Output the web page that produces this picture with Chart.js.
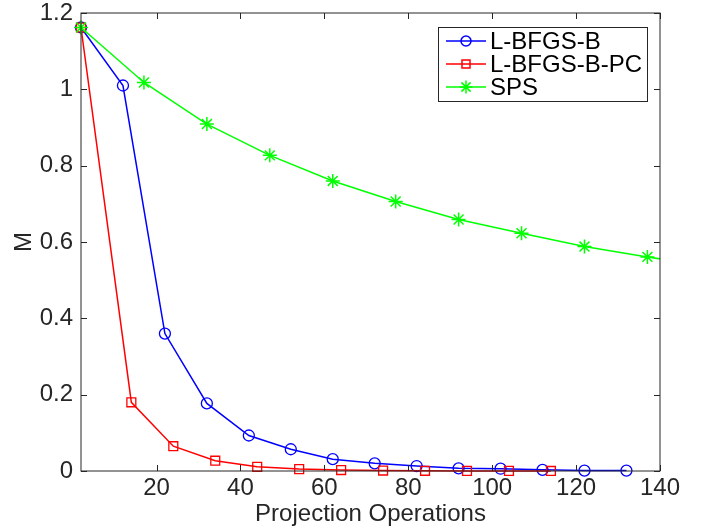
<!DOCTYPE html>
<html>
<head>
<meta charset="utf-8">
<script src="https://cdn.jsdelivr.net/npm/chart.js@4/dist/chart.umd.min.js"></script>
<style>
  html, body { margin: 0; padding: 0; background: #fff; }
  #wrap { width: 709px; height: 529px; }
</style>
</head>
<body>
<div id="wrap"><canvas id="myChart" width="709" height="529"></canvas></div>
<script>
// tick labels
var xTicks = [20, 40, 60, 80, 100, 120, 140];
var yTicks = [0, 0.2, 0.4, 0.6, 0.8, 1, 1.2];

// L-BFGS-B
var bfgsX = [2, 12, 22, 32, 42, 52, 62, 72, 82, 92, 102, 112, 122, 132];
var bfgsY = [1.162, 1.01, 0.36, 0.177, 0.093, 0.057, 0.031, 0.02, 0.013, 0.007, 0.006, 0.003, 0.001, 0.001];

// L-BFGS-B-PC
var pcX = [2, 14, 24, 34, 44, 54, 64, 74, 84, 94, 104, 114];
var pcY = [1.162, 0.18, 0.065, 0.027, 0.011, 0.005, 0.0025, 0.0012, 0.0006, 0.0003, 0.0002, 0.0001];

// SPS
var spsX = [2, 17, 32, 47, 62, 77, 92, 107, 122, 137, 152];
var spsY = [1.162, 1.018, 0.909, 0.827, 0.760, 0.706, 0.659, 0.623, 0.588, 0.561, 0.535];

var FONT = "'Liberation Sans', Arial, Helvetica, sans-serif";
var TXT = '#262626';

function pts(xs, ys) {
  return xs.map(function (v, i) { return {x: v, y: ys[i]}; });
}

// draws the matlab style box, inward ticks and the boxed legend
var matlabBox = {
  id: 'matlabBox',
  afterDraw: function (chart) {
    var ctx = chart.ctx, a = chart.chartArea;
    var xs = chart.scales.x, ys = chart.scales.y;
    ctx.save();
    ctx.strokeStyle = TXT;
    ctx.lineWidth = 1;
    ctx.strokeRect(a.left, a.top, a.right - a.left, a.bottom - a.top);
    ctx.beginPath();
    xTicks.forEach(function (v) {
      var px = Math.round(xs.getPixelForValue(v)) + 0.5;
      ctx.moveTo(px, a.bottom); ctx.lineTo(px, a.bottom - 6);
      ctx.moveTo(px, a.top); ctx.lineTo(px, a.top + 6);
    });
    yTicks.forEach(function (v) {
      var py = Math.round(ys.getPixelForValue(v)) + 0.5;
      ctx.moveTo(a.left, py); ctx.lineTo(a.left + 6, py);
      ctx.moveTo(a.right, py); ctx.lineTo(a.right - 6, py);
    });
    ctx.stroke();

    // legend
    var lx = a.right - 222, ly = a.top + 14, lw = 209, lh = 74;
    ctx.fillStyle = '#fff';
    ctx.fillRect(lx, ly, lw, lh);
    ctx.strokeStyle = TXT;
    ctx.strokeRect(lx + 0.5, ly + 0.5, lw, lh);
    ctx.font = '24px ' + FONT;
    ctx.textBaseline = 'middle';
    chart.data.datasets.forEach(function (ds, i) {
      var cy = ly + 14 + i * 23;
      ctx.strokeStyle = ds.borderColor;
      ctx.lineWidth = 1.5;
      ctx.beginPath();
      ctx.moveTo(lx + 8, cy); ctx.lineTo(lx + 48, cy);
      ctx.stroke();
      var mx = lx + 28;
      ctx.beginPath();
      if (ds.pointStyle === 'circle') {
        ctx.arc(mx, cy, 5, 0, Math.PI * 2);
      } else if (ds.pointStyle === 'rect') {
        ctx.rect(mx - 4, cy - 4, 8, 8);
      } else {
        var r = 6.5, d = r * Math.SQRT1_2;
        ctx.moveTo(mx - r, cy); ctx.lineTo(mx + r, cy);
        ctx.moveTo(mx, cy - r); ctx.lineTo(mx, cy + r);
        ctx.moveTo(mx - d, cy - d); ctx.lineTo(mx + d, cy + d);
        ctx.moveTo(mx - d, cy + d); ctx.lineTo(mx + d, cy - d);
      }
      ctx.stroke();
      ctx.fillStyle = '#000';
      ctx.fillText(ds.label, lx + 52, cy + 1);
    });
    ctx.restore();
  }
};

function noPad(s) {
  s.paddingTop = 0; s.paddingBottom = 0;
  s.paddingLeft = 0; s.paddingRight = 0;
}

var ctx = document.getElementById('myChart').getContext('2d');
var myChart = new Chart(ctx, {
  type: 'line',
  data: {
    datasets: [{
      label: 'L-BFGS-B',
      data: pts(bfgsX, bfgsY),
      borderColor: '#0000ff',
      backgroundColor: 'rgba(0,0,0,0)',
      borderWidth: 1.5,
      pointStyle: 'circle',
      pointRadius: 5.5,
      pointBorderWidth: 1.3,
      order: 3,
      clip: {left: 10, top: 10, right: 0, bottom: 10}
    }, {
      label: 'L-BFGS-B-PC',
      data: pts(pcX, pcY),
      borderColor: '#ff0000',
      backgroundColor: 'rgba(0,0,0,0)',
      borderWidth: 1.5,
      pointStyle: 'rect',
      pointRadius: 6.3,
      pointBorderWidth: 1.3,
      order: 2,
      clip: {left: 10, top: 10, right: 0, bottom: 10}
    }, {
      label: 'SPS',
      data: pts(spsX, spsY),
      borderColor: '#00ff00',
      backgroundColor: 'rgba(0,0,0,0)',
      borderWidth: 1.5,
      pointStyle: 'star',
      pointRadius: 7,
      pointBorderWidth: 1.5,
      order: 1,
      clip: {left: 10, top: 10, right: 0, bottom: 10}
    }]
  },
  options: {
    responsive: false,
    animation: false,
    events: [],
    layout: { padding: {left: 0, top: 13, right: 49, bottom: 0} },
    elements: { line: { tension: 0 } },
    scales: {
      x: {
        type: 'linear',
        min: 2, max: 140,
        grid: { display: false, drawTicks: false },
        border: { display: false },
        afterBuildTicks: function (s) { s.ticks = xTicks.map(function (v) { return {value: v}; }); },
        afterFit: function (s) { s.height = 58; noPad(s); },
        ticks: { color: TXT, font: { family: FONT, size: 24 }, padding: 3, maxRotation: 0 },
        title: { display: true, text: 'Projection Operations', color: TXT, font: { family: FONT, size: 24 }, padding: {top: 3, bottom: 0} }
      },
      y: {
        min: 0, max: 1.2,
        grid: { display: false, drawTicks: false },
        border: { display: false },
        afterBuildTicks: function (s) { s.ticks = yTicks.map(function (v) { return {value: v}; }); },
        afterFit: function (s) { s.width = 81; noPad(s); },
        ticks: {
          color: TXT, font: { family: FONT, size: 24 }, padding: 8,
          callback: function (v) { return String(+v.toFixed(1)); }
        },
        title: { display: true, text: 'M', color: TXT, font: { family: FONT, size: 24 }, padding: {top: 10, bottom: 0} }
      }
    },
    plugins: {
      legend: { display: false },
      tooltip: { enabled: false }
    }
  },
  plugins: [matlabBox]
});
</script>
</body>
</html>
